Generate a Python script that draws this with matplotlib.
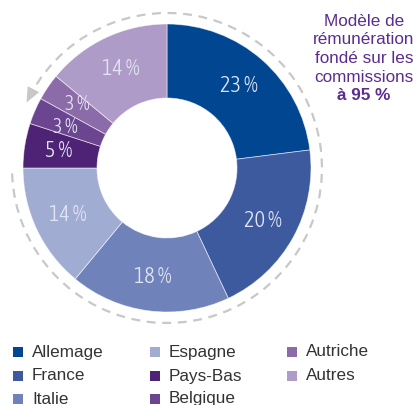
import matplotlib
matplotlib.use("Agg")
import matplotlib.pyplot as plt
from matplotlib.patches import Arc, Polygon, Rectangle
from matplotlib.font_manager import fontManager, FontProperties
from matplotlib.ft2font import FT2Font
import numpy as np

categories = ["Allemage", "France", "Italie", "Espagne", "Pays-Bas", "Belgique", "Autriche", "Autres"]
values = [23, 20, 18, 14, 5, 3, 3, 14]
colors = ["#004690", "#3d5a9e", "#6f82ba", "#a1acd3", "#4e2376", "#6b4590", "#8c6ba9", "#af9bc7"]
note_lines = ["Modèle de", "rémunération", "fondé sur les", "commissions"]
note_bold = "à 95 %"

# pick a condensed font for the slice labels if available
label_fp = None
sep = " "
cands = []
for f in fontManager.ttflist:
    st = str(f.stretch).lower()
    if ("narrow" in f.name.lower() or "condensed" in f.name.lower() or "condensed" in st) \
            and f.style == "normal":
        w = f.weight if isinstance(f.weight, (int, float)) else {"light": 300, "normal": 400, "regular": 400,
                                                                    "book": 400, "bold": 700}.get(str(f.weight).lower(), 400)
        if w <= 400:
            cands.append((abs(w - 300), f.fname))
if cands:
    cands.sort()
    fpath = cands[0][1]
    label_fp = FontProperties(fname=fpath, size=16)
    small_fp = FontProperties(fname=fpath, size=14.5)
    try:
        if FT2Font(fpath).get_char_index(0x2009) != 0:
            sep = "\u2009"
    except Exception:
        pass
else:
    label_fp = FontProperties(family="Roboto", weight="light", size=14)
    small_fp = FontProperties(family="Roboto", weight="light", size=13)

W, H = 414, 405
fig = plt.figure(figsize=(W / 100, H / 100), dpi=100)
ax = fig.add_axes([0, 0, 1, 1])

cx, cy = 167, H - 168
R = 144
wedges, texts, autotexts = ax.pie(
    values, colors=colors, startangle=90, counterclock=False,
    center=(cx, cy), radius=R, frame=True,
    wedgeprops=dict(width=74, edgecolor=(1, 1, 1, 0.6), linewidth=0.6),
    autopct=lambda p: f"{p:.0f}{sep}%", pctdistance=0.76,
    textprops=dict(color="#e2e5f2"),
)
for v, t in zip(values, autotexts):
    t.set_fontproperties(label_fp if v > 3 else small_fp)
# small nudges so the two narrow-slice labels don't collide
bx, by = autotexts[5].get_position()
autotexts[5].set_position((bx - 1, by - 2))
ax_, ay_ = autotexts[6].get_position()
autotexts[6].set_position((ax_ + 1, ay_ + 2))

# dashed arc with arrowhead
Rd = 155
arc = Arc((cx, cy), 2 * Rd, 2 * Rd, theta1=182, theta2=512, color="#c8c8c8",
          lw=1.6, linestyle=(0, (4, 3)))
ax.add_patch(arc)
tip_ang = np.deg2rad(155)
base_ang = np.deg2rad(150)
tip = np.array([cx + Rd * np.cos(tip_ang), cy + Rd * np.sin(tip_ang)])
b = np.array([cx + Rd * np.cos(base_ang), cy + Rd * np.sin(base_ang)])
tang = (tip - b) / np.linalg.norm(tip - b)
normal = np.array([-tang[1], tang[0]])
bc = tip - tang * 15
tri = Polygon([tip, bc + normal * 6.5, bc - normal * 6.5], closed=True,
              color="#c8c8c8", lw=0)
ax.add_patch(tri)

ax.set_xlim(0, W)
ax.set_ylim(0, H)
ax.set_aspect("equal")
ax.axis("off")

# note text
for i, line in enumerate(note_lines):
    fig.text(364 / W, 1 - (21 + i * 18.7) / H, line, ha="center", va="center",
             fontsize=12.3, color="#5b2d8e", family="Liberation Sans")
fig.text(364 / W, 1 - 96 / H, note_bold, ha="center", va="center",
         fontsize=12.3, color="#5b2d8e", family="Liberation Sans", fontweight="bold")

# legend (manual, three columns)
col_x = [13, 150, 287]
row_y = [352, 376, 399]
for i, (name, c) in enumerate(zip(categories, colors)):
    col, row = i // 3, i % 3
    x0, y0 = col_x[col], row_y[row]
    fig.patches.append(Rectangle((x0 / W, 1 - (y0 + 5) / H), 10 / W, 10 / H,
                                 transform=fig.transFigure, facecolor=c, edgecolor="none"))
    fig.text((x0 + 19) / W, 1 - y0 / H, name, ha="left", va="center",
             fontsize=12.3, color="#333333", family="Liberation Sans")

fig.savefig("out.png", dpi=100)
